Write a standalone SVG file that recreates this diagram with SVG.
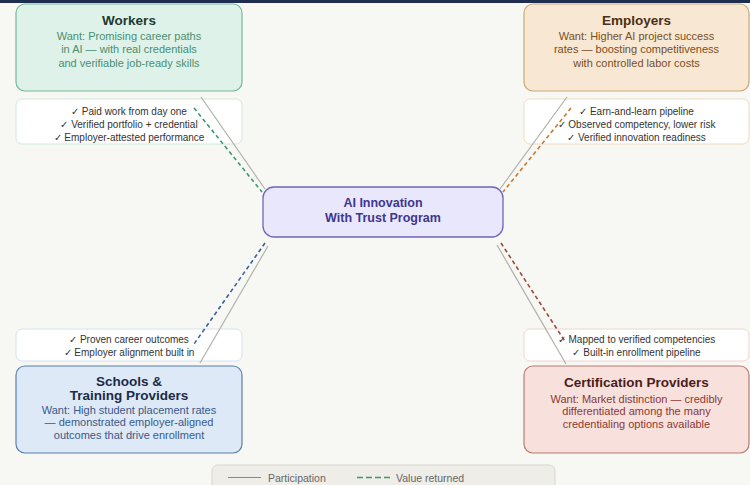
<svg xmlns="http://www.w3.org/2000/svg" width="750" height="485" viewBox="0 0 750 485">
<style>
text{font-family:"Liberation Sans",Arial,sans-serif;text-anchor:middle}
.t{font-size:13.5px;font-weight:bold}
.b{font-size:11px}
.s{font-size:10px;fill:#333}
.ben{fill:#fff;stroke-width:1}
.main{stroke-width:1.2}
.sol{stroke:#b0b0aa;stroke-width:1.2;fill:none}
.dsh{stroke-width:1.6;stroke-dasharray:4 3;fill:none}
.lg{font-size:10.5px;fill:#666;text-anchor:start}
</style>
<rect width="750" height="485" fill="#f7f7f4"/>
<rect width="750" height="3" fill="#1e2d50"/>

<g id="workers">
<rect class="main" x="16" y="4" width="226" height="87" rx="9" fill="#def2ea" stroke="#74b89a"/>
<text class="t" x="129" y="24.5" fill="#1e3a30">Workers</text>
<text class="b" x="129" y="40" fill="#4a8f70">Want: Promising career paths</text>
<text class="b" x="129" y="53.3" fill="#4a8f70">in AI — with real credentials</text>
<text class="b" x="129" y="66.6" fill="#4a8f70">and verifiable job-ready skills</text>
</g>
<g id="workers-benefits">
<rect class="ben" x="16" y="99" width="226" height="45" rx="6" stroke="#cfeadc"/>
<text class="s" x="129" y="114.5">✓ Paid work from day one</text>
<text class="s" x="129" y="127.5">✓ Verified portfolio + credential</text>
<text class="s" x="129" y="140.5">✓ Employer-attested performance</text>
</g>

<g id="employers">
<rect class="main" x="524" y="4" width="225" height="87" rx="9" fill="#f8e8d3" stroke="#caa87c"/>
<text class="t" x="636.5" y="24.5" fill="#4a3018">Employers</text>
<text class="b" x="636.5" y="40" fill="#7a4e25">Want: Higher AI project success</text>
<text class="b" x="636.5" y="53.3" fill="#7a4e25">rates — boosting competitiveness</text>
<text class="b" x="636.5" y="66.6" fill="#7a4e25">with controlled labor costs</text>
</g>
<g id="employers-benefits">
<rect class="ben" x="524" y="99" width="225" height="45" rx="6" stroke="#f0dcc0"/>
<text class="s" x="636.5" y="114.5">✓ Earn-and-learn pipeline</text>
<text class="s" x="636.5" y="127.5">✓ Observed competency, lower risk</text>
<text class="s" x="636.5" y="140.5">✓ Verified innovation readiness</text>
</g>

<g id="center">
<rect x="263" y="187" width="240" height="50" rx="11" fill="#e9e7fb" stroke="#6e66bc" stroke-width="1.3"/>
<text x="383" y="207" font-size="12.5" font-weight="bold" fill="#3d3790">AI Innovation</text>
<text x="383" y="222" font-size="12.5" font-weight="bold" fill="#3d3790">With Trust Program</text>
</g>

<g id="schools-benefits">
<rect class="ben" x="16" y="329" width="226" height="32" rx="6" stroke="#d6e2f0"/>
<text class="s" x="129" y="342.5">✓ Proven career outcomes</text>
<text class="s" x="129" y="355.5">✓ Employer alignment built in</text>
</g>
<g id="schools">
<rect class="main" x="16" y="366" width="226" height="87" rx="9" fill="#dde9f7" stroke="#5a7fb0"/>
<text class="t" x="129" y="386" fill="#1a2b48">Schools &amp;</text>
<text class="t" x="129" y="400" fill="#1a2b48">Training Providers</text>
<text class="b" x="129" y="413.5" fill="#3a5a8a">Want: High student placement rates</text>
<text class="b" x="129" y="426" fill="#3a5a8a">— demonstrated employer-aligned</text>
<text class="b" x="129" y="438.5" fill="#3a5a8a">outcomes that drive enrollment</text>
</g>

<g id="cert-benefits">
<rect class="ben" x="524" y="329" width="225" height="32" rx="6" stroke="#f0d6ce"/>
<text class="s" x="636.5" y="342.5">✓ Mapped to verified competencies</text>
<text class="s" x="636.5" y="355.5">✓ Built-in enrollment pipeline</text>
</g>
<g id="cert">
<rect class="main" x="524" y="366" width="225" height="87" rx="9" fill="#f8e0dc" stroke="#b87a70"/>
<text class="t" x="636.5" y="387" fill="#4a1e1a">Certification Providers</text>
<text class="b" x="636.5" y="403" fill="#8a3a35">Want: Market distinction — credibly</text>
<text class="b" x="636.5" y="415.3" fill="#8a3a35">differentiated among the many</text>
<text class="b" x="636.5" y="427.6" fill="#8a3a35">credentialing options available</text>
</g>

<g id="connectors">
<line class="sol" x1="201" y1="97" x2="265" y2="189"/>
<line class="dsh" x1="194" y1="108" x2="262" y2="192" stroke="#3a9a6a"/>
<line class="sol" x1="567" y1="97" x2="500" y2="189"/>
<line class="dsh" x1="571" y1="108" x2="503" y2="192" stroke="#c87a30"/>
<line class="sol" x1="268" y1="246" x2="200" y2="363"/>
<line class="dsh" x1="265" y1="243" x2="194" y2="344" stroke="#3a5f9a"/>
<line class="sol" x1="497" y1="245" x2="566" y2="364"/>
<line class="dsh" x1="501" y1="243" x2="566" y2="343" stroke="#9a4a3a"/>
</g>

<g id="legend">
<rect x="212" y="465" width="343" height="34" rx="6" fill="#eeede7" stroke="#d8d6cc"/>
<line x1="228" y1="477.5" x2="261" y2="477.5" stroke="#888" stroke-width="1"/>
<text class="lg" x="268" y="481.5">Participation</text>
<line x1="357" y1="477.5" x2="390" y2="477.5" stroke="#3a9a6a" stroke-width="1.4" stroke-dasharray="6 3"/>
<text class="lg" x="396" y="481.5">Value returned</text>
</g>
</svg>
